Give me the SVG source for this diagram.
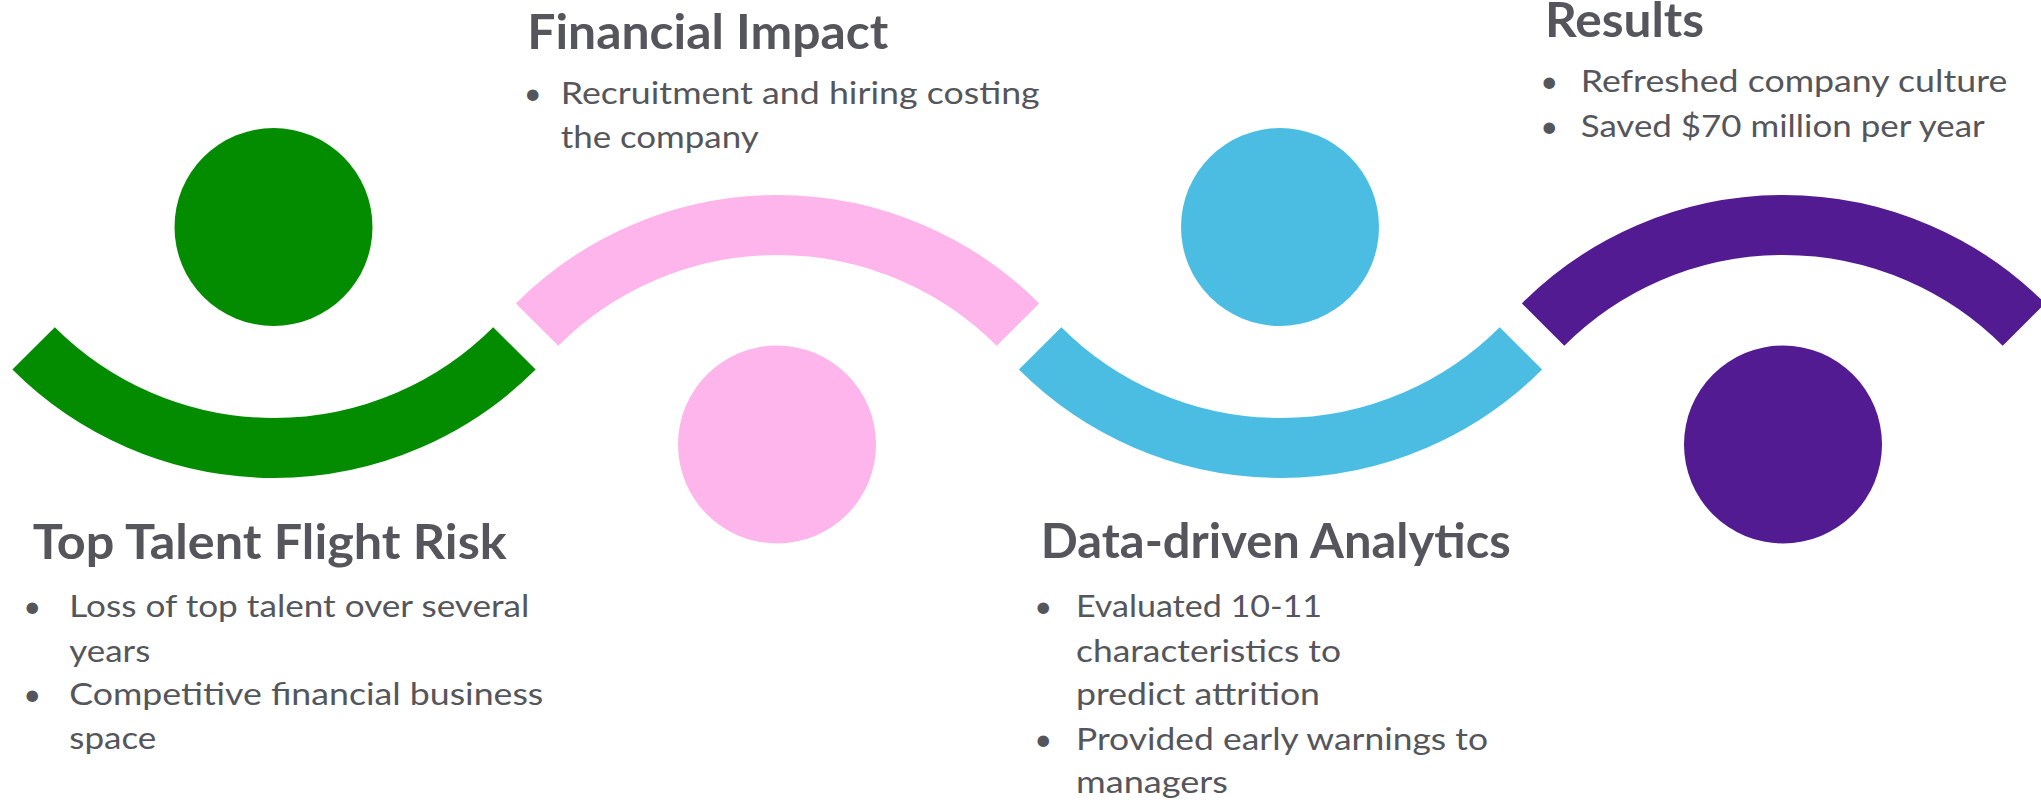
<svg xmlns="http://www.w3.org/2000/svg" width="2041" height="803" viewBox="0 0 2041 803">
<style>
.arc{fill:none;stroke-width:60;stroke-linecap:butt}
.t{font-family:Lato,"Source Sans Pro","Liberation Sans",sans-serif;fill:#55565B}
.h{font-size:47.5px;font-weight:bold}
.b{font-size:31px}
.d{font-size:31px;text-anchor:middle}
</style>
<rect width="2041" height="803" fill="#ffffff"/>
<g id="connectors">
<path class="arc" stroke="#038C00" d="M 33.6 348.4 A 340 340 0 0 0 514.4 348.4"/>
<path class="arc" stroke="#FDB5EB" d="M 537.1 324.6 A 340 340 0 0 1 1017.9 324.6"/>
<path class="arc" stroke="#4BBDE3" d="M 1040.1 348.4 A 340 340 0 0 0 1520.9 348.4"/>
<path class="arc" stroke="#521B91" d="M 1543.1 324.6 A 340 340 0 0 1 2023.9 324.6"/>
</g>
<g id="node-top-talent">
<circle cx="273.5" cy="227" r="99" fill="#038C00"/>
<text class="t h" x="32.7" y="559.3" textLength="474" lengthAdjust="spacingAndGlyphs">Top Talent Flight Risk</text>
<text class="t d" x="32.3" y="617.3">•</text>
<text class="t b" x="69.3" y="617.3" textLength="460" lengthAdjust="spacingAndGlyphs">Loss of top talent over several</text>
<text class="t b" x="69.3" y="661.5" textLength="81" lengthAdjust="spacingAndGlyphs">years</text>
<text class="t d" x="32.3" y="705">•</text>
<text class="t b" x="69.3" y="705" textLength="474" lengthAdjust="spacingAndGlyphs">Competitive financial business</text>
<text class="t b" x="69.3" y="748.5" textLength="87" lengthAdjust="spacingAndGlyphs">space</text>
</g>
<g id="node-financial-impact">
<circle cx="777" cy="444.5" r="99" fill="#FDB5EB"/>
<text class="t h" x="527.3" y="49.3" textLength="361" lengthAdjust="spacingAndGlyphs">Financial Impact</text>
<text class="t d" x="532.7" y="104">•</text>
<text class="t b" x="560.7" y="104" textLength="479" lengthAdjust="spacingAndGlyphs">Recruitment and hiring costing</text>
<text class="t b" x="560.7" y="148.3" textLength="198" lengthAdjust="spacingAndGlyphs">the company</text>
</g>
<g id="node-data-driven">
<circle cx="1280" cy="227" r="99" fill="#4BBDE3"/>
<text class="t h" x="1040.7" y="558.3" textLength="470" lengthAdjust="spacingAndGlyphs">Data-driven Analytics</text>
<text class="t d" x="1043.3" y="616.7">•</text>
<text class="t b" x="1076" y="616.7" textLength="246" lengthAdjust="spacingAndGlyphs">Evaluated 10-11</text>
<text class="t b" x="1076" y="661.5" textLength="265" lengthAdjust="spacingAndGlyphs">characteristics to</text>
<text class="t b" x="1076" y="705" textLength="244" lengthAdjust="spacingAndGlyphs">predict attrition</text>
<text class="t d" x="1043.3" y="750">•</text>
<text class="t b" x="1076" y="750" textLength="412" lengthAdjust="spacingAndGlyphs">Provided early warnings to</text>
<text class="t b" x="1076" y="793.3" textLength="152" lengthAdjust="spacingAndGlyphs">managers</text>
</g>
<g id="node-results">
<circle cx="1783" cy="444.5" r="99" fill="#521B91"/>
<text class="t h" x="1545" y="36.5" textLength="159" lengthAdjust="spacingAndGlyphs">Results</text>
<text class="t d" x="1549.3" y="91.7">•</text>
<text class="t b" x="1580.7" y="91.7" textLength="426.6" lengthAdjust="spacingAndGlyphs">Refreshed company culture</text>
<text class="t d" x="1549.3" y="136.7">•</text>
<text class="t b" x="1580.7" y="136.7" textLength="404" lengthAdjust="spacingAndGlyphs">Saved $70 million per year</text>
</g>
</svg>
